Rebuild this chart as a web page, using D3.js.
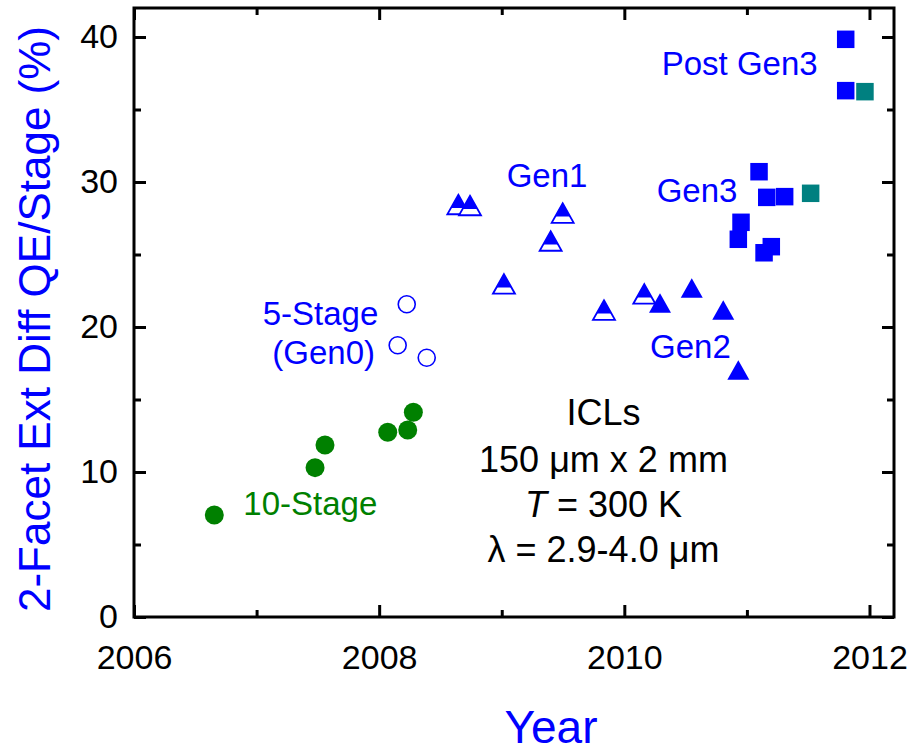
<!DOCTYPE html>
<html>
<head>
<script src="https://cdn.jsdelivr.net/npm/d3@7"></script>
<style>
  body { margin: 0; background: #fff; }
  svg text { font-family: "Liberation Sans", Arial, sans-serif; }
  .axis text { font-size: 34px; fill: #000; }
  .axis line { stroke: #000; stroke-width: 3; }
  .axis path { display: none; }
</style>
</head>
<body>
<script>
// axis ticks
var xMajor = [2006, 2008, 2010, 2012],
    xMinor = [2007, 2009, 2011],
    yMajor = [0, 10, 20, 30, 40],
    yMinor = [5, 15, 25, 35];

// 10-stage devices (filled green circles)
var tenStageYear = [2006.655, 2007.477, 2007.558, 2008.070, 2008.233, 2008.279],
    tenStageQE   = [7.03, 10.30, 11.86, 12.74, 12.90, 14.12];

// 5-stage Gen0 devices (open circles)
var fiveStageYear = [2008.225, 2008.151, 2008.388],
    fiveStageQE   = [21.57, 18.74, 17.88];

// Gen1 devices (half-filled triangles)
var gen1Year = [2008.646, 2008.741, 2009.497, 2009.399, 2009.018, 2009.834, 2010.163],
    gen1QE   = [28.45, 28.38, 27.86, 25.93, 22.97, 21.17, 22.28];

// Gen2 devices (filled triangles)
var gen2Year = [2010.291, 2010.550, 2010.807, 2010.930],
    gen2QE   = [21.66, 22.69, 21.17, 17.03];

// Gen3 and post-Gen3 devices (blue squares)
var gen3Year = [2011.099, 2011.162, 2011.308, 2010.952, 2010.930, 2011.199, 2011.140, 2011.806, 2011.806],
    gen3QE   = [30.71, 28.94, 28.99, 27.22, 26.05, 25.54, 25.12, 39.84, 36.30];

// teal squares
var tealYear = [2011.963, 2011.520],
    tealQE   = [36.23, 29.22];

// group labels: text, year, QE, anchor
var groupLabels = ["Post Gen3", "Gen3", "Gen2", "Gen1", "5-Stage", "(Gen0)", "10-Stage"],
    groupLabelYear = [2010.305, 2010.264, 2010.21, 2009.04, 2007.993, 2007.966, 2006.892],
    groupLabelQE = [37.38, 28.64, 17.84, 29.68, 20.14, 17.45, 7.03],
    groupLabelAnchor = ["start", "start", "start", "start", "end", "end", "start"],
    groupLabelColor = ["#0000ff", "#0000ff", "#0000ff", "#0000ff", "#0000ff", "#0000ff", "#008000"];

var width = 912, height = 749;
var plotLeft = 134, plotRight = 894, plotTop = 8, plotBottom = 617;

var x = d3.scaleLinear().domain([2006, 2012.2]).range([plotLeft, plotRight]);
var y = d3.scaleLinear().domain([0, 42]).range([plotBottom, plotTop]);

var svg = d3.select("body").append("svg")
    .attr("width", width)
    .attr("height", height);

// ticks, all pointing into the plot
svg.append("g").attr("class", "axis")
    .attr("transform", "translate(0," + plotBottom + ")")
    .call(d3.axisBottom(x).tickValues(xMajor).tickFormat(d3.format("d"))
        .tickSize(-12).tickSizeOuter(0).tickPadding(28));
svg.append("g").attr("class", "axis")
    .attr("transform", "translate(0," + plotBottom + ")")
    .call(d3.axisBottom(x).tickValues(xMinor).tickFormat("").tickSize(-7).tickSizeOuter(0));
svg.append("g").attr("class", "axis")
    .attr("transform", "translate(0," + plotTop + ")")
    .call(d3.axisTop(x).tickValues(xMajor).tickFormat("").tickSize(-12).tickSizeOuter(0));
svg.append("g").attr("class", "axis")
    .attr("transform", "translate(0," + plotTop + ")")
    .call(d3.axisTop(x).tickValues(xMinor).tickFormat("").tickSize(-7).tickSizeOuter(0));

svg.append("g").attr("class", "axis")
    .attr("transform", "translate(" + plotLeft + ",0)")
    .call(d3.axisLeft(y).tickValues(yMajor).tickSize(-12).tickSizeOuter(0).tickPadding(16));
svg.append("g").attr("class", "axis")
    .attr("transform", "translate(" + plotLeft + ",0)")
    .call(d3.axisLeft(y).tickValues(yMinor).tickFormat("").tickSize(-7).tickSizeOuter(0));
svg.append("g").attr("class", "axis")
    .attr("transform", "translate(" + plotRight + ",0)")
    .call(d3.axisRight(y).tickValues(yMajor).tickFormat("").tickSize(-12).tickSizeOuter(0));
svg.append("g").attr("class", "axis")
    .attr("transform", "translate(" + plotRight + ",0)")
    .call(d3.axisRight(y).tickValues(yMinor).tickFormat("").tickSize(-7).tickSizeOuter(0));

// frame
svg.append("rect")
    .attr("x", plotLeft).attr("y", plotTop)
    .attr("width", plotRight - plotLeft).attr("height", plotBottom - plotTop)
    .attr("fill", "none").attr("stroke", "#000").attr("stroke-width", 3);

// axis titles
svg.append("text")
    .attr("transform", "translate(50,319) rotate(-90)")
    .attr("text-anchor", "middle")
    .style("font-size", "44px")
    .attr("fill", "#0000ff")
    .text("2-Facet Ext Diff QE/Stage (%)");

svg.append("text")
    .attr("x", 551).attr("y", 743)
    .attr("text-anchor", "middle")
    .style("font-size", "46px")
    .attr("fill", "#0000ff")
    .text("Year");

function zip(xs, ys) { return xs.map(function(d, i) { return [d, ys[i]]; }); }

var marks = svg.append("g");

// circles
marks.selectAll(".ten").data(zip(tenStageYear, tenStageQE)).enter().append("circle")
    .attr("cx", function(d) { return x(d[0]); })
    .attr("cy", function(d) { return y(d[1]); })
    .attr("r", 9.5)
    .attr("fill", "#008000");

marks.selectAll(".five").data(zip(fiveStageYear, fiveStageQE)).enter().append("circle")
    .attr("cx", function(d) { return x(d[0]); })
    .attr("cy", function(d) { return y(d[1]); })
    .attr("r", 8.5)
    .attr("fill", "#fff")
    .attr("stroke", "#0000ff")
    .attr("stroke-width", 1.6);

// triangles
var tw = 22, th = 19.5;
function triPath(d) {
  var cx = x(d[0]), cy = y(d[1]);
  return "M" + cx + "," + (cy - th / 2) + "L" + (cx + tw / 2) + "," + (cy + th / 2) +
         "L" + (cx - tw / 2) + "," + (cy + th / 2) + "Z";
}
function upperTriPath(d) {
  var cx = x(d[0]), cy = y(d[1]), f = 0.68;
  return "M" + cx + "," + (cy - th / 2) + "L" + (cx + f * tw / 2) + "," + (cy - th / 2 + f * th) +
         "L" + (cx - f * tw / 2) + "," + (cy - th / 2 + f * th) + "Z";
}

var gen1 = marks.selectAll(".gen1").data(zip(gen1Year, gen1QE)).enter().append("g");
gen1.append("path").attr("d", triPath)
    .attr("fill", "#fff").attr("stroke", "#0000ff").attr("stroke-width", 1.8);
gen1.append("path").attr("d", upperTriPath).attr("fill", "#0000ff");

marks.selectAll(".gen2").data(zip(gen2Year, gen2QE)).enter().append("path")
    .attr("d", triPath)
    .attr("fill", "#0000ff");

// squares
var sq = 17.5;
marks.selectAll(".gen3").data(zip(gen3Year, gen3QE)).enter().append("rect")
    .attr("x", function(d) { return x(d[0]) - sq / 2; })
    .attr("y", function(d) { return y(d[1]) - sq / 2; })
    .attr("width", sq).attr("height", sq)
    .attr("fill", "#0000ff");

marks.selectAll(".teal").data(zip(tealYear, tealQE)).enter().append("rect")
    .attr("x", function(d) { return x(d[0]) - sq / 2; })
    .attr("y", function(d) { return y(d[1]) - sq / 2; })
    .attr("width", sq).attr("height", sq)
    .attr("fill", "#008080");

// group labels
svg.selectAll(".glabel").data(groupLabels).enter().append("text")
    .attr("x", function(d, i) { return x(groupLabelYear[i]); })
    .attr("y", function(d, i) { return y(groupLabelQE[i]); })
    .attr("text-anchor", function(d, i) { return groupLabelAnchor[i]; })
    .attr("fill", function(d, i) { return groupLabelColor[i]; })
    .style("font-size", "33px")
    .text(function(d) { return d; });

// device description block
var info = svg.append("g")
    .attr("text-anchor", "middle")
    .style("font-size", "36px")
    .attr("fill", "#000");
info.append("text").attr("x", x(2009.83)).attr("y", y(13.24)).text("ICLs");
info.append("text").attr("x", x(2009.83)).attr("y", y(10.02)).text("150 \u03bcm x 2 mm");
var tLine = info.append("text").attr("x", x(2009.83)).attr("y", y(6.92));
tLine.append("tspan").style("font-style", "italic").text("T");
tLine.append("tspan").text(" = 300 K");
info.append("text").attr("x", x(2009.83)).attr("y", y(3.79)).text("\u03bb = 2.9-4.0 \u03bcm");
</script>
</body>
</html>
